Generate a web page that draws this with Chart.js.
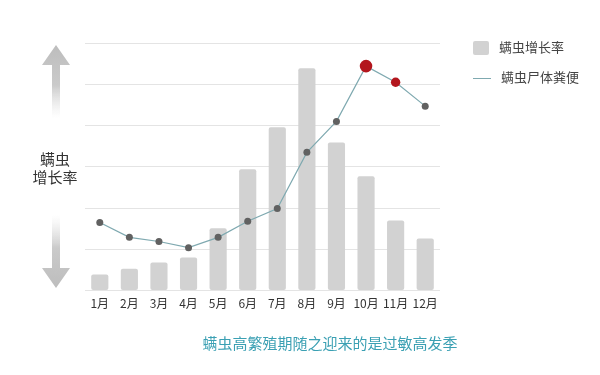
<!DOCTYPE html>
<html>
<head>
<meta charset="utf-8">
<script src="https://cdn.jsdelivr.net/npm/chart.js@4"></script>
<style>
  html, body { margin: 0; padding: 0; background: #fff; }
  body { width: 600px; height: 375px; position: relative; overflow: hidden;
         font-family: "Noto Sans CJK SC", "Noto Sans", sans-serif; }
  #wrap { position: absolute; left: 0; top: 0; width: 600px; height: 375px; }
  .txt { position: absolute; white-space: nowrap; color: #333; }
  #yLabel { left: 24px; top: 150px; width: 62px; text-align: center; font-size: 15px; line-height: 18px; }
  .leg { position: absolute; left: 473px; font-size: 13px; color: #444; height: 16px; line-height: 16px; }
  .leg i { display: inline-block; vertical-align: middle; margin-right: 10px; }
  #caption { left: 0; width: 660px; text-align: center; top: 332px; font-size: 15px; color: #3ba0b3; }
</style>
</head>
<body>
<div id="wrap"><canvas id="c" width="600" height="375"></canvas></div>
<div class="txt" id="yLabel">螨虫<br>增长率</div>
<div class="leg" style="top:39px"><i style="width:16px;height:14px;background:#d2d2d2;border-radius:2px"></i>螨虫增长率</div>
<div class="leg" style="top:69px"><i style="width:18px;height:1px;background:#7fa9b0"></i>螨虫尸体粪便</div>
<div class="txt" id="caption">螨虫高繁殖期随之迎来的是过敏高发季</div>
<script>
const months = ["1月","2月","3月","4月","5月","6月","7月","8月","9月","10月","11月","12月"];
const growthRate = [0.39, 0.53, 0.68, 0.80, 1.51, 2.94, 3.96, 5.39, 3.59, 2.77, 1.70, 1.26];
const droppings = [1.65, 1.29, 1.19, 1.04, 1.29, 1.68, 1.99, 3.35, 4.10, 5.44, 5.05, 4.47];
const highlight = [false, false, false, false, false, false, false, false, false, true, true, false];
const highlightRadius = [0, 0, 0, 0, 0, 0, 0, 0, 0, 6.3, 4.7, 0];

// side arrows drawn next to the plot
const arrowPlugin = {
  id: "arrows",
  afterDraw(chart) {
    const ctx = chart.ctx;
    const cx = 56;
    const drawArrow = (tip, headBase, tail) => {
      const g = ctx.createLinearGradient(0, tip, 0, tail);
      g.addColorStop(0, "#bdbdbd");
      g.addColorStop(0.55, "#cacaca");
      g.addColorStop(1, "rgba(225,225,225,0)");
      ctx.save();
      ctx.fillStyle = g;
      ctx.beginPath();
      ctx.moveTo(cx, tip);
      ctx.lineTo(cx + 14, headBase);
      ctx.lineTo(cx + 4, headBase);
      ctx.lineTo(cx + 4, tail);
      ctx.lineTo(cx - 4, tail);
      ctx.lineTo(cx - 4, headBase);
      ctx.lineTo(cx - 14, headBase);
      ctx.closePath();
      ctx.fill();
      ctx.restore();
    };
    drawArrow(45, 65, 118);
    drawArrow(288, 268, 215);
  }
};

new Chart(document.getElementById("c"), {
  data: {
    labels: months,
    datasets: [
      {
        type: "line",
        label: "螨虫尸体粪便",
        data: droppings,
        borderColor: "#7fa9b0",
        borderWidth: 1.2,
        pointBackgroundColor: highlight.map(h => h ? "#b3161d" : "#616161"),
        pointBorderWidth: 0,
        pointRadius: highlightRadius.map(r => r || 3.5),
        tension: 0,
        order: 0
      },
      {
        type: "bar",
        label: "螨虫增长率",
        data: growthRate,
        backgroundColor: "#d2d2d2",
        borderRadius: 2,
        borderSkipped: false,
        categoryPercentage: 1,
        barPercentage: 0.58,
        order: 1
      }
    ]
  },
  options: {
    responsive: false,
    animation: false,
    layout: { padding: { left: 85, right: 160, top: 43, bottom: 66 } },
    plugins: { legend: { display: false }, tooltip: { enabled: false } },
    scales: {
      x: {
        offset: true,
        grid: { display: false },
        border: { display: false },
        ticks: { color: "#333", font: { size: 12, family: "'Noto Sans CJK SC'" }, padding: -2, maxRotation: 0 }
      },
      y: {
        min: 0, max: 6,
        ticks: { display: false, stepSize: 1 },
        border: { display: false },
        grid: { color: "#e4e4e4", lineWidth: 1, drawTicks: false }
      }
    }
  },
  plugins: [arrowPlugin]
});
</script>
</body>
</html>
